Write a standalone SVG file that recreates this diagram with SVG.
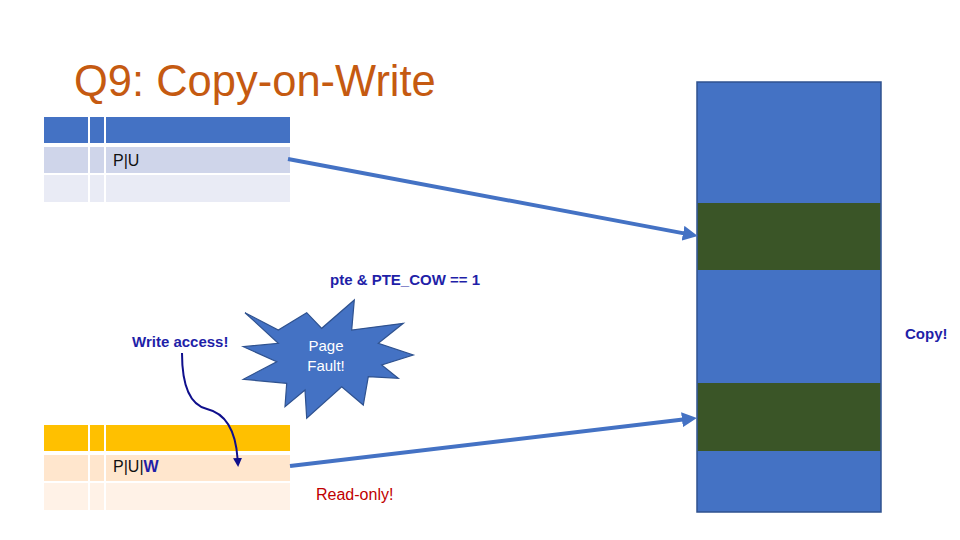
<svg xmlns="http://www.w3.org/2000/svg" width="960" height="540" viewBox="0 0 960 540">
<defs>
<style>
text{font-family:"Liberation Sans",Arial,sans-serif}
.title{font-size:43.5px;fill:#C55A11}
.cell{font-size:16px;fill:#111}
.note{font-size:15px;font-weight:bold;fill:#1F1FA8}
.ro{font-size:16px;fill:#C00000}
.pf{font-size:15px;fill:#ffffff}
.ptr{stroke:#4472C4;stroke-width:4;fill:none}
.mem{fill:#4472C4}
.page{fill:#3A5527}
</style>
<marker id="ah" markerUnits="userSpaceOnUse" markerWidth="15" markerHeight="15" viewBox="0 0 15 15" refX="1" refY="7.5" orient="auto">
<path d="M0,0 L15,7.5 L0,15 z" fill="#4472C4"/>
</marker>
<marker id="nav" markerUnits="userSpaceOnUse" markerWidth="9" markerHeight="9" viewBox="0 0 9 9" refX="1" refY="4.5" orient="auto">
<path d="M0,0 L9,4.5 L0,9 z" fill="#0F0F8C"/>
</marker>
</defs>
<rect width="960" height="540" fill="#ffffff"/>
<text class="title" x="74" y="96">Q9: Copy-on-Write</text>

<g id="table-parent">
<rect x="44" y="117" width="44" height="26" fill="#4472C4"/>
<rect x="90" y="117" width="14" height="26" fill="#4472C4"/>
<rect x="106" y="117" width="184" height="26" fill="#4472C4"/>
<rect x="44" y="147" width="44" height="26" fill="#CFD5EA"/>
<rect x="90" y="147" width="14" height="26" fill="#CFD5EA"/>
<rect x="106" y="147" width="184" height="26" fill="#CFD5EA"/>
<rect x="44" y="175" width="44" height="27" fill="#E9EBF5"/>
<rect x="90" y="175" width="14" height="27" fill="#E9EBF5"/>
<rect x="106" y="175" width="184" height="27" fill="#E9EBF5"/>
<text class="cell" x="113" y="166">P|U</text>
</g>

<g id="table-child">
<rect x="44" y="425" width="44" height="26" fill="#FFC000"/>
<rect x="90" y="425" width="14" height="26" fill="#FFC000"/>
<rect x="106" y="425" width="184" height="26" fill="#FFC000"/>
<rect x="44" y="455" width="44" height="26" fill="#FFE6CD"/>
<rect x="90" y="455" width="14" height="26" fill="#FFE6CD"/>
<rect x="106" y="455" width="184" height="26" fill="#FFE6CD"/>
<rect x="44" y="483" width="44" height="27" fill="#FFF2E7"/>
<rect x="90" y="483" width="14" height="27" fill="#FFF2E7"/>
<rect x="106" y="483" width="184" height="27" fill="#FFF2E7"/>
<text class="cell" x="113" y="472">P|U|<tspan font-weight="bold" fill="#1F1FA8">W</tspan></text>
</g>

<g id="memory">
<rect class="mem" x="697" y="82" width="184" height="430" stroke="#2F528F" stroke-width="1.5"/>
<rect class="page" x="697.8" y="203" width="182.4" height="67"/>
<rect class="page" x="697.8" y="383" width="182.4" height="68"/>
</g>

<g id="page-fault">
<polygon points="245,312.7 278.3,330 306.7,312.7 321.7,328.3 354.3,300 351.7,330 403.3,323.3 378.3,343.3 413.3,355 381.7,365 398.3,378.3 368.3,376.7 363.3,405 341.7,386.7 306.7,418.3 305,390 285,406.7 286.7,383.3 243.3,379.3 276.7,361.7 243.3,346.7 278.3,343.3" fill="#4472C4" stroke="#2F528F" stroke-width="1.2"/>
<text class="pf" x="326" y="351" text-anchor="middle">Page</text>
<text class="pf" x="326" y="371" text-anchor="middle">Fault!</text>
</g>

<g id="labels">
<text class="note" x="132" y="347">Write access!</text>
<text class="note" x="330" y="285">pte &amp; PTE_COW == 1</text>
<text class="note" x="905" y="339">Copy!</text>
<text class="ro" x="316" y="500">Read-only!</text>
</g>

<g id="connectors">
<line class="ptr" x1="288" y1="159" x2="684" y2="233.4" marker-end="url(#ah)"/>
<line class="ptr" x1="290" y1="466" x2="683" y2="419.6" marker-end="url(#ah)"/>
<path d="M182,353 C182,385 190,405 207,409 C228,414 236,435 237.6,459" fill="none" stroke="#0F0F8C" stroke-width="2" marker-end="url(#nav)"/>
</g>
</svg>
